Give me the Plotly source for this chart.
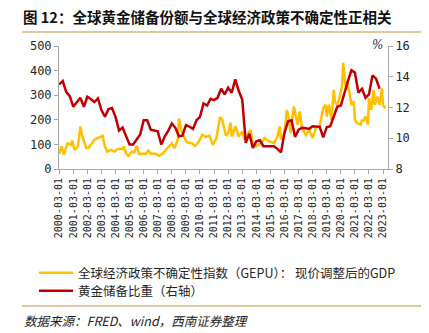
import plotly.graph_objects as go
import pandas as pd

# ---------------- data ----------------
gepu_dates = [
    "2000-03", "2000-05", "2000-07", "2000-10", "2001-01", "2001-02", "2001-04", "2001-07", "2001-09", "2001-11",
    "2002-02", "2002-04", "2002-09", "2003-01", "2003-04", "2003-06", "2003-08", "2003-11", "2004-02", "2004-05",
    "2004-09", "2004-10", "2004-12", "2005-02", "2005-05", "2005-07", "2005-09", "2005-11", "2006-05", "2006-07",
    "2006-09", "2007-01", "2007-04", "2007-07", "2007-10", "2007-12", "2008-03", "2008-05", "2008-06", "2008-08",
    "2008-09", "2008-11", "2009-01", "2009-04", "2009-08", "2009-11", "2010-02", "2010-05", "2010-08", "2010-11",
    "2011-02", "2011-05", "2011-08", "2011-10", "2012-01", "2012-03", "2012-05", "2012-06", "2012-09", "2012-12",
    "2013-03", "2013-05", "2013-07", "2013-10", "2013-12", "2014-03", "2014-07", "2014-10", "2015-02", "2015-06",
    "2015-09", "2015-11", "2015-12", "2016-03", "2016-05", "2016-07", "2016-08", "2016-11", "2017-02", "2017-04",
    "2017-06", "2017-09", "2017-12", "2018-03", "2018-06", "2018-09", "2018-12", "2019-02", "2019-03", "2019-05",
    "2019-07", "2019-09", "2019-10", "2019-12", "2020-02", "2020-04", "2020-05", "2020-07", "2020-08", "2020-10",
    "2020-12", "2021-02", "2021-03", "2021-05", "2021-08", "2021-09", "2021-10", "2021-12", "2022-02", "2022-03",
    "2022-05", "2022-07", "2022-08", "2022-10", "2022-12", "2023-02", "2023-03", "2023-05",
]
gepu_values = [
    62, 92, 58, 105, 98, 116, 78, 92, 173, 126,
    85, 85, 119, 130, 135, 92, 71, 78, 71, 81,
    81, 92, 62, 54, 71, 67, 94, 62, 62, 75,
    62, 62, 54, 62, 81, 89, 105, 85, 94, 119,
    205, 159, 132, 108, 105, 94, 112, 140, 130, 135,
    98, 126, 211, 200, 135, 146, 189, 132, 173, 132,
    152, 119, 139, 159, 105, 92, 105, 126, 112, 105,
    132, 173, 119, 146, 240, 200, 146, 254, 180, 234,
    166, 139, 159, 126, 170, 176, 247, 261, 213, 261,
    200, 322, 274, 261, 294, 335, 432, 335, 355, 322,
    261, 274, 200, 187, 180, 200, 193, 213, 180, 288,
    240, 322, 261, 294, 261, 328, 261, 247,
]

# quarterly gold reserve share (%), 2000Q1 .. 2022Q4
gold_share = [
    13.5, 13.72, 13.0, 12.74,    # 2000
    12.05, 12.35, 12.63, 12.05,  # 2001
    12.7, 12.55, 12.35, 12.59,   # 2002
    11.83, 11.4, 11.9, 11.96,    # 2003
    11.39, 10.5, 10.7, 10.13,    # 2004
    9.59, 9.59, 9.9, 10.24,      # 2005
    11.17, 11.17, 10.56, 10.5,   # 2006
    10.45, 9.59, 10.13, 10.5,    # 2007
    10.96, 10.68, 10.13, 10.17,  # 2008
    10.85, 10.75, 10.61, 11.17,  # 2009
    11.39, 12.26, 12.13, 12.57,  # 2010
    12.48, 12.63, 13.22, 12.85,  # 2011
    13.29, 12.96, 13.83, 13.07,  # 2012
    12.52, 9.7, 10.3, 9.37,      # 2013
    9.8, 9.87, 9.48, 9.48,       # 2014
    9.48, 9.48, 9.31, 9.08,      # 2015
    10.35, 11.1, 11.17, 10.09,   # 2016
    10.56, 10.68, 10.65, 10.61,  # 2017
    10.78, 10.76, 10.74, 10.06,  # 2018
    10.72, 10.78, 11.48, 12.05,  # 2019
    12.13, 12.96, 13.72, 14.42,  # 2020
    14.27, 12.96, 13.22, 12.63,  # 2021
    12.85, 14.09, 13.88, 13.22,  # 2022
]
gold_dates = [d.strftime("%Y-%m-01") for d in pd.date_range("2000-03-01", periods=len(gold_share), freq="3MS")]

tick_labels = [f"{y}-03-01" for y in range(2000, 2024)]

series_names = ["全球经济政策不确定性指数（GEPU）： 现价调整后的GDP", "黄金储备比重（右轴）"]
title_text = "图 12：全球黄金储备份额与全球经济政策不确定性正相关"
source_text = "数据来源：FRED、wind，西南证券整理"

# ---------------- figure ----------------
W, H = 429, 333
ML, MR, MT, MB = 59, 41, 46, 164
PW, PH = W - ML - MR, H - MT - MB


def px_x(px):
    return (px - ML) / PW


def px_y(py):
    return (H - MB - py) / PH


axis_col = "#A6A6A6"
txt_col = "#262626"
mono = "DejaVu Sans Mono"
cjk = "Noto Sans CJK SC"

fig = go.Figure()
fig.add_trace(go.Scatter(
    x=[d + "-01" for d in gepu_dates], y=gepu_values, name=series_names[0],
    mode="lines", line=dict(color="#FFC000", width=2.5), yaxis="y", legend="legend",
))
fig.add_trace(go.Scatter(
    x=gold_dates, y=gold_share, name=series_names[1],
    mode="lines", line=dict(color="#C00000", width=2.5), yaxis="y2", legend="legend2",
))

leg_common = dict(
    xanchor="left", yanchor="middle",
    font=dict(family=cjk, size=12.5, color=txt_col),
    bgcolor="rgba(0,0,0,0)", itemwidth=34,
)

fig.update_layout(
    width=W, height=H, autosize=False,
    margin=dict(l=ML, r=MR, t=MT, b=MB, pad=0),
    paper_bgcolor="white", plot_bgcolor="white",
    font=dict(family=cjk, color=txt_col),
    xaxis=dict(
        type="date", range=["2000-02-25", "2023-07-08"],
        tickvals=tick_labels, ticktext=tick_labels, tickangle=-90,
        tickfont=dict(family=mono, size=10, color=txt_col),
        showline=True, linecolor=axis_col, linewidth=1,
        ticks="outside", ticklen=4, tickcolor=axis_col,
        showgrid=False, zeroline=False,
    ),
    yaxis=dict(
        range=[0, 500], tickvals=[0, 100, 200, 300, 400, 500],
        tickfont=dict(family=mono, size=12, color=txt_col),
        showline=True, linecolor=axis_col, linewidth=1,
        ticks="outside", ticklen=4, tickcolor=axis_col,
        showgrid=False, zeroline=False,
    ),
    yaxis2=dict(
        range=[8, 16], tickvals=[8, 10, 12, 14, 16], overlaying="y", side="right",
        tickfont=dict(family=mono, size=12, color=txt_col),
        showline=True, linecolor=axis_col, linewidth=1,
        ticks="outside", ticklen=4, tickcolor=axis_col,
        showgrid=False, zeroline=False,
    ),
    showlegend=True,
    legend=dict(x=px_x(34), y=px_y(273), **leg_common),
    legend2=dict(x=px_x(34), y=px_y(291), **leg_common),
    shapes=[
        dict(type="line", xref="paper", yref="paper", x0=px_x(22), x1=px_x(421),
             y0=px_y(32), y1=px_y(32), line=dict(color="#D6B47E", width=1.5)),
        dict(type="line", xref="paper", yref="paper", x0=px_x(22), x1=px_x(421),
             y0=px_y(306), y1=px_y(306), line=dict(color="#D6B47E", width=1.5)),
    ],
    annotations=[
        dict(text="<b>" + title_text + "</b>", xref="paper", yref="paper",
             x=px_x(21), y=px_y(16), xanchor="left", yanchor="middle", showarrow=False,
             font=dict(family=cjk, size=14.5, color="#111111")),
        dict(text="<i>" + source_text + "</i>", xref="paper", yref="paper",
             x=px_x(22), y=px_y(320), xanchor="left", yanchor="middle", showarrow=False,
             font=dict(family=cjk, size=12.5, color="#222222")),
        dict(text="<i>%</i>", xref="paper", yref="paper",
             x=px_x(377), y=px_y(45), xanchor="center", yanchor="middle", showarrow=False,
             font=dict(family="DejaVu Serif", size=12, color=txt_col)),
    ],
)

fig.write_html("out.html")
